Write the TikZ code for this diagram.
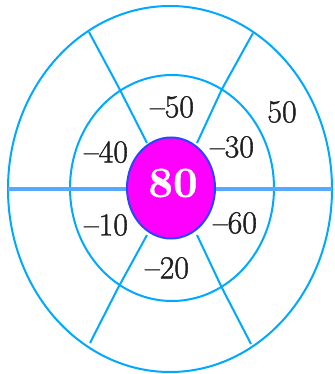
\documentclass[tikz,border=0pt]{standalone}
\usepackage{fontspec}
\newfontfamily\lblfont{Latin Modern Roman}[FakeBold=1.2]
\newfontfamily\numfont{lmroman10-bold}[Extension=.otf, FakeBold=0.8]
\usetikzlibrary{shapes.geometric}
\definecolor{ring}{RGB}{0,168,255}
\definecolor{axisc}{RGB}{85,170,255}
\definecolor{rim}{RGB}{40,70,255}
\definecolor{mag}{RGB}{255,0,255}
\begin{document}
\begin{tikzpicture}[x=1pt,y=-1pt,
  ringline/.style={draw=ring, line width=2pt},
  lbl/.style={font=\lblfont\fontsize{32}{34}\selectfont, text=black!88, inner sep=0pt}]
\useasboundingbox (0,0) rectangle (334,374);
% rings
\draw[ringline] (170,189) ellipse [x radius=162, y radius=183];
\draw[ringline] (172,188) ellipse [x radius=102, y radius=113];
% horizontal axis
\coordinate (hl) at (8,189);
\coordinate (hr) at (332,189);
\draw[axisc, line width=3.5pt] (hl) -- (hr);
% radial spokes
\coordinate (ul1) at (147,143); \coordinate (ul2) at (119,88); \coordinate (ul3) at (89,32);
\coordinate (ur1) at (197,143); \coordinate (ur2) at (222,89); \coordinate (ur3) at (253,33);
\coordinate (ll1) at (147,235); \coordinate (ll2) at (118,288); \coordinate (ll3) at (90,343);
\coordinate (lr1) at (197,235); \coordinate (lr2) at (222,288); \coordinate (lr3) at (251,344);
\draw[ringline] (ul1) -- (ul2) -- (ul3);
\draw[ringline] (ur1) -- (ur2) -- (ur3);
\draw[ringline] (ll1) -- (ll2) -- (ll3);
\draw[ringline] (lr1) -- (lr2) -- (lr3);
% centre
\node[ellipse, fill=mag, draw=rim, line width=2pt, minimum width=88pt, minimum height=101pt, inner sep=0pt] (c) at (171,188) {};
\node[text=white, font=\numfont\fontsize{43}{45}\selectfont, inner sep=0pt] (v) at (173,183) {80};
% labels
\node[lbl] (a) at (172,107) {–50};
\node[lbl] (b) at (282,112) {50};
\node[lbl] (d) at (106,152) {–40};
\node[lbl] (e) at (232,147) {–30};
\node[lbl] (f) at (106,225) {–10};
\node[lbl] (g) at (235,223) {–60};
\node[lbl] (h) at (167,268) {–20};
\end{tikzpicture}
\end{document}
